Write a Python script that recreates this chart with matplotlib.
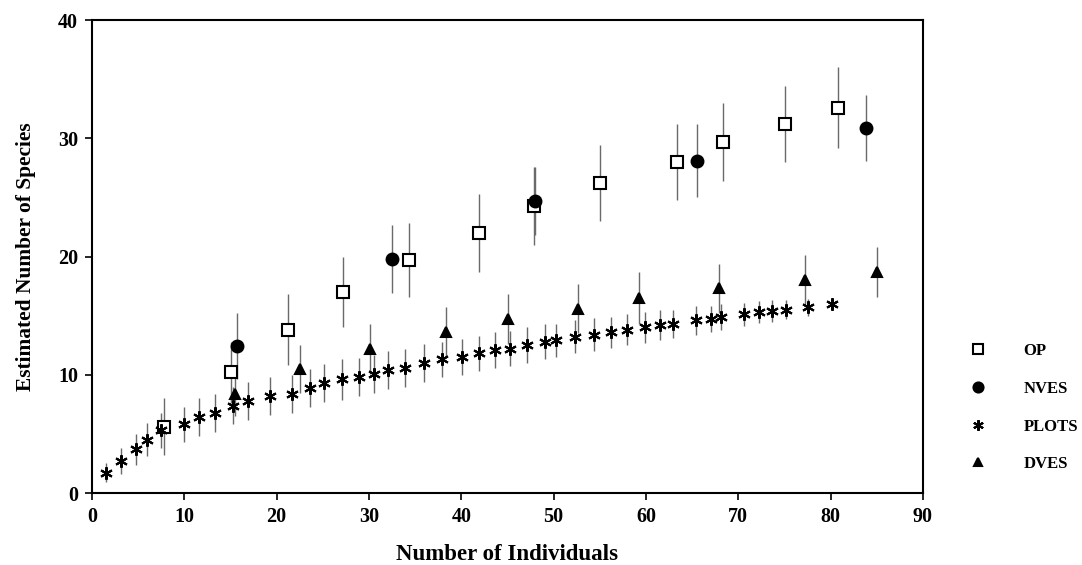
import matplotlib
matplotlib.use("Agg")
import matplotlib.pyplot as plt

plt.rcParams['font.family'] = ['Liberation Serif', 'DejaVu Serif']
plt.rcParams['font.weight'] = 'bold'

# PLOTS (asterisks)
plots_x = [1.5, 3.1, 4.8, 6.0, 7.5, 10.0, 11.6, 13.3, 15.3, 16.9, 19.3, 21.7, 23.6, 25.1,
           27.1, 28.9, 30.5, 32.1, 33.9, 36.0, 37.9, 40.1, 41.9, 43.7, 45.3, 47.1, 49.1,
           50.3, 52.3, 54.4, 56.2, 57.9, 59.9, 61.5, 62.9, 65.4, 67.0, 68.1, 70.6, 72.2,
           73.6, 75.2, 77.5, 80.2]
plots_y = [1.7, 2.7, 3.7, 4.5, 5.3, 5.8, 6.4, 6.8, 7.4, 7.8, 8.2, 8.4, 8.9, 9.3,
           9.6, 9.8, 10.1, 10.4, 10.6, 11.0, 11.3, 11.5, 11.8, 12.1, 12.2, 12.5, 12.8,
           12.9, 13.2, 13.4, 13.6, 13.8, 14.0, 14.2, 14.3, 14.6, 14.7, 14.9, 15.1, 15.3,
           15.4, 15.5, 15.7, 16.0]
plots_err = [0.8, 1.1, 1.3, 1.4, 1.5, 1.5, 1.6, 1.6, 1.6, 1.6, 1.6, 1.6, 1.6, 1.6,
             1.7, 1.6, 1.6, 1.6, 1.6, 1.6, 1.5, 1.5, 1.5, 1.5, 1.5, 1.5, 1.5,
             1.4, 1.4, 1.4, 1.3, 1.3, 1.3, 1.3, 1.2, 1.2, 1.1, 1.1, 1.0, 0.9,
             0.9, 0.8, 0.7, 0.4]

# OP (open squares)
op_x = [7.8, 15.1, 21.2, 27.2, 34.3, 41.9, 47.9, 55.0, 63.4, 68.3, 75.1, 80.8]
op_y = [5.6, 10.2, 13.8, 17.0, 19.7, 22.0, 24.3, 26.2, 28.0, 29.7, 31.2, 32.6]
op_err = [2.4, 2.6, 3.0, 3.0, 3.1, 3.3, 3.3, 3.2, 3.2, 3.3, 3.2, 3.4]

# NVES (filled circles)
nves_x = [15.7, 32.5, 48.0, 65.5, 83.8]
nves_y = [12.4, 19.8, 24.7, 28.1, 30.9]
nves_err = [2.8, 2.9, 2.9, 3.1, 2.8]

# DVES (filled triangles)
dves_x = [15.5, 22.5, 30.1, 38.3, 45.1, 52.6, 59.2, 67.9, 77.2, 85.0]
dves_y = [8.4, 10.5, 12.2, 13.6, 14.7, 15.6, 16.5, 17.3, 18.0, 18.7]
dves_err = [1.9, 2.0, 2.1, 2.1, 2.1, 2.1, 2.2, 2.1, 2.1, 2.1]

fig = plt.figure(figsize=(10.82, 5.65), dpi=100)
ax = fig.add_axes([0.085, 0.1274, 0.768, 0.8372])

ecol = '#6a6a6a'
series = [
    (op_x, op_y, op_err, 's', 'white', 8.5, 'OP'),
    (nves_x, nves_y, nves_err, 'o', 'black', 8.5, 'NVES'),
    (plots_x, plots_y, plots_err, (6, 2, 0), 'black', 9, 'PLOTS'),
    (dves_x, dves_y, dves_err, '^', 'black', 7.5, 'DVES'),
]
handles = []
for xs, ys, es, mk, fc, ms, lab in series:
    ax.errorbar(xs, ys, yerr=es, fmt='none', ecolor=ecol, elinewidth=1.0, capsize=0, zorder=1)
    h, = ax.plot(xs, ys, linestyle='none', marker=mk, markerfacecolor=fc,
                 markeredgecolor='black', markeredgewidth=1.5, markersize=ms,
                 label=lab, zorder=3)
    handles.append(h)

ax.set_xlim(0, 90)
ax.set_ylim(0, 40)
ax.set_xticks(range(0, 91, 10))
ax.set_yticks(range(0, 41, 10))
ax.tick_params(direction='out', length=5, width=1.2, labelsize=14.5, pad=5)
for s in ax.spines.values():
    s.set_linewidth(1.5)
ax.set_xlabel("Number of Individuals", fontsize=16.5, fontweight='bold', labelpad=12)
ax.set_ylabel("Estimated Number of Species", fontsize=15.4, fontweight='bold', labelpad=16)

fig.legend(handles=handles, loc='upper left', bbox_to_anchor=(0.882, 0.419),
           frameon=False, fontsize=12, labelspacing=1.3, handletextpad=2.25,
           handlelength=1.0, markerscale=0.85)

fig.savefig("out.png", dpi=100)
